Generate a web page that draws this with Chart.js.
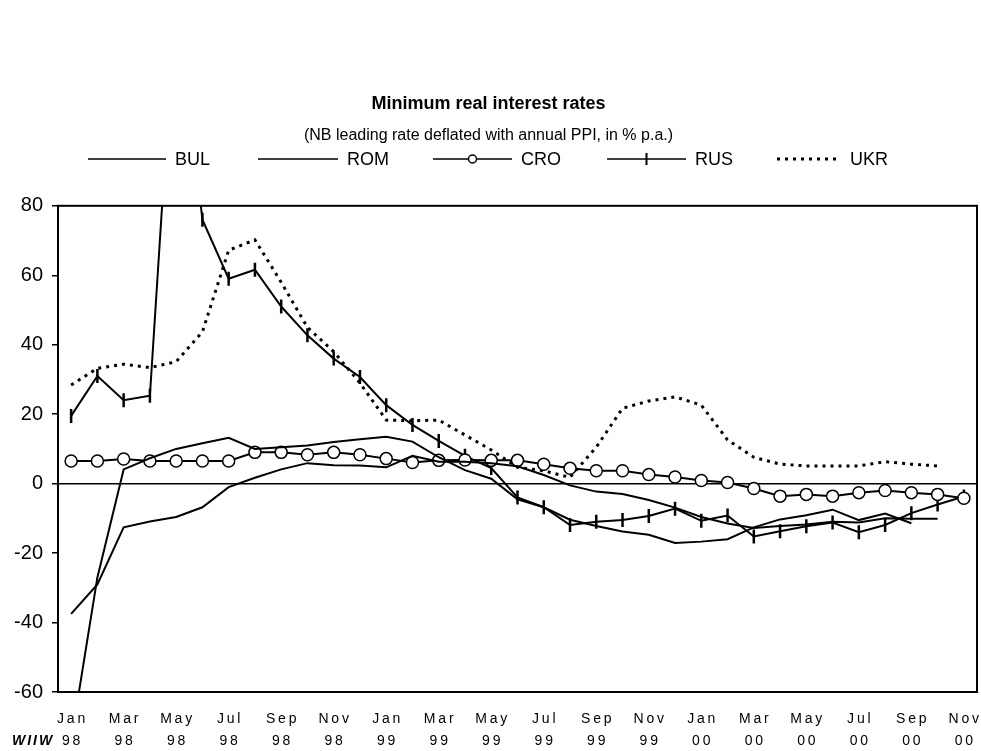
<!DOCTYPE html>
<html>
<head>
<meta charset="utf-8">
<title>Minimum real interest rates</title>
<script src="https://cdn.jsdelivr.net/npm/chart.js@4.4.1/dist/chart.umd.min.js"></script>
<style>
    html, body { margin: 0; padding: 0; background: #fff; }
</style>
</head>
<body>
<canvas id="chart" width="981" height="751"></canvas>
<script>
// Minimum real interest rates, Jan 98 - Nov 00 (monthly)

const months = ['Jan', 'Feb', 'Mar', 'Apr', 'May', 'Jun', 'Jul', 'Aug', 'Sep', 'Oct', 'Nov', 'Dec'];
const years = ['98', '99', '00'];
const monthCount = 35;

const yTicks = { min: -60, max: 80, step: 20 };

const bul = [-74, -27, 4.1, 7.3, 10.0, 11.6, 13.2, 10.0, 10.5, 11.0, 12.0, 12.8,
    13.5, 12.1, 7.6, 3.9, 1.4, -4.5, -6.8, -10.4, -12.2, -13.8, -14.7, -17.1,
    -16.7, -16.0, -12.6, -10.3, -9.1, -7.5, -10.5, -8.6, -11.4];
const rom = [-37.5, -29, -12.6, -10.9, -9.6, -6.8, -1.0, 1.7, 4.1, 5.9, 5.3, 5.2,
    4.7, 8.0, 6.3, 6.3, 5.9, 5.0, 2.5, -0.5, -2.3, -3.0, -4.7, -6.9,
    -9.6, -11.5, -12.8, -12.2, -11.8, -11.0, -11.2, -10.0, -10.1, -10.1];
const cro = [6.5, 6.5, 7.1, 6.5, 6.5, 6.5, 6.5, 9.0, 9.0, 8.3, 9.0, 8.3,
    7.2, 6.1, 6.7, 6.8, 6.7, 6.7, 5.6, 4.4, 3.7, 3.7, 2.6, 1.9,
    0.9, 0.3, -1.4, -3.6, -3.1, -3.6, -2.6, -2.0, -2.6, -3.1, -4.2];
const rus = [19.5, 31, 24, 25.3, 143, 76, 59, 61.6, 51, 42.7, 36, 30.7,
    22.6, 16.9, 12.3, 8.0, 4.5, -4.0, -6.8, -11.9, -11.0, -10.5, -9.3, -7.2,
    -10.7, -9.2, -15.2, -13.7, -12.3, -11.2, -14.0, -11.9, -8.5, -6.0, -3.7];
const ukr = [28.4, 33.2, 34.4, 33.4, 35.1, 43.7, 67.2, 70.2, 58, 45, 38, 29,
    18.3, 18.1, 18.3, 14.0, 9.7, 4.7, 3.7, 1.8, 10.5, 21.7, 23.8, 25.0,
    22.6, 12.6, 7.6, 5.6, 5.1, 5.1, 5.1, 6.3, 5.6, 5.1];

const FONT = '"Liberation Sans", Arial, Helvetica, sans-serif';

// category labels: [month, year]
const labels = [];
for (let i = 0; i < monthCount; i++) {
    labels.push([months[i % 12], years[Math.floor(i / 12)]]);
}

// spread letters a little, like the original axis
function spaced(s) {
    return s.split('').join('\u2009');
}

// Legend (drawn by hand so the samples look like the original)
const legendLayout = [
    { label: 'BUL', x: 88, len: 78, kind: 'line' },
    { label: 'ROM', x: 258, len: 80, kind: 'line' },
    { label: 'CRO', x: 433, len: 79, kind: 'circle' },
    { label: 'RUS', x: 607, len: 79, kind: 'tick' },
    { label: 'UKR', x: 777, len: 64, kind: 'dots' },
];

const decorPlugin = {
    id: 'decor',
    beforeDatasetsDraw(chart) {
        const { ctx, chartArea } = chart;
        ctx.save();
        ctx.strokeStyle = '#000';
        ctx.lineWidth = 2;
        ctx.strokeRect(chartArea.left, chartArea.top,
            chartArea.right - chartArea.left, chartArea.bottom - chartArea.top);
        ctx.restore();
    },
    afterDraw(chart) {
        const ctx = chart.ctx;
        const y = 159;
        ctx.save();
        ctx.strokeStyle = '#000';
        ctx.fillStyle = '#000';
        ctx.font = '18px ' + FONT;
        ctx.textBaseline = 'middle';
        legendLayout.forEach(item => {
            const x0 = item.x, x1 = item.x + item.len, mid = (x0 + x1) / 2;
            ctx.lineWidth = 1.5;
            if (item.kind === 'dots') {
                ctx.setLineDash([3, 5]);
                ctx.lineWidth = 3;
            }
            ctx.beginPath();
            ctx.moveTo(x0, y);
            ctx.lineTo(x1, y);
            ctx.stroke();
            ctx.setLineDash([]);
            if (item.kind === 'circle') {
                ctx.lineWidth = 1.5;
                ctx.beginPath();
                ctx.arc(mid, y, 4, 0, Math.PI * 2);
                ctx.fillStyle = '#fff';
                ctx.fill();
                ctx.stroke();
                ctx.fillStyle = '#000';
            }
            if (item.kind === 'tick') {
                ctx.lineWidth = 2;
                ctx.beginPath();
                ctx.moveTo(mid, y - 6);
                ctx.lineTo(mid, y + 6);
                ctx.stroke();
            }
            ctx.fillText(item.label, x1 + 9, y + 1);
        });

        // source mark
        ctx.font = 'italic bold 14px ' + FONT;
        ctx.letterSpacing = '2px';
        ctx.textBaseline = 'middle';
        ctx.fillText('WIIW', 12, 741);
        ctx.restore();
    },
};

const ctx = document.getElementById('chart');

new Chart(ctx, {
    type: 'line',
    data: {
        labels: labels,
        datasets: [
            {
                label: 'BUL',
                data: bul,
                borderColor: '#000',
                borderWidth: 2,
                pointRadius: 0,
            },
            {
                label: 'ROM',
                data: rom,
                borderColor: '#000',
                borderWidth: 2,
                pointRadius: 0,
            },
            {
                label: 'CRO',
                data: cro,
                borderColor: '#000',
                borderWidth: 2,
                pointRadius: 6,
                pointBackgroundColor: '#fff',
                pointBorderColor: '#000',
                pointBorderWidth: 1.5,
            },
            {
                label: 'RUS',
                data: rus,
                borderColor: '#000',
                borderWidth: 2,
                pointStyle: 'line',
                pointRotation: 90,
                pointRadius: 7,
                pointBorderColor: '#000',
                pointBorderWidth: 2.5,
            },
            {
                label: 'UKR',
                data: ukr,
                borderColor: '#000',
                borderWidth: 3,
                borderDash: [3, 5],
                pointRadius: 0,
            },
        ],
    },
    options: {
        responsive: false,
        devicePixelRatio: 1,
        animation: false,
        layout: {
            autoPadding: false,
            padding: { left: 0, right: 4, top: 0, bottom: 0 },
        },
        elements: {
            line: { tension: 0 },
        },
        plugins: {
            legend: { display: false },
            tooltip: { enabled: false },
            title: {
                display: true,
                text: 'Minimum real interest rates',
                color: '#000',
                font: { family: FONT, size: 18, weight: 'bold', lineHeight: 1.2 },
                padding: { top: 93, bottom: 10 },
            },
            subtitle: {
                display: true,
                text: '(NB leading rate deflated with annual PPI, in % p.a.)',
                color: '#000',
                font: { family: FONT, size: 16, lineHeight: 1.2 },
                padding: { top: 1, bottom: 61 },
            },
        },
        scales: {
            x: {
                type: 'category',
                offset: true,
                grid: { display: false },
                border: { display: false },
                ticks: {
                    autoSkip: false,
                    maxRotation: 0,
                    minRotation: 0,
                    padding: 8,
                    color: '#000',
                    font: { family: FONT, size: 14, lineHeight: 1.57 },
                    callback: function (value, index) {
                        if (index % 2 !== 0) return '';
                        const lab = labels[index];
                        return [spaced(lab[0]), spaced(lab[1])];
                    },
                },
                afterFit: function (scale) {
                    scale.height = 59;
                    scale.paddingLeft = 0;
                    scale.paddingRight = 0;
                },
            },
            y: {
                min: yTicks.min,
                max: yTicks.max,
                border: { display: true, color: '#000', width: 2 },
                grid: {
                    drawOnChartArea: true,
                    drawTicks: true,
                    tickLength: 6,
                    tickColor: '#000',
                    tickWidth: 1.5,
                    lineWidth: 1.5,
                    color: function (c) {
                        return c.tick && c.tick.value === 0 ? '#000' : 'rgba(0,0,0,0)';
                    },
                },
                ticks: {
                    stepSize: yTicks.step,
                    padding: 9,
                    color: '#000',
                    font: { family: FONT, size: 20 },
                },
                afterFit: function (scale) {
                    scale.width = 58;
                },
            },
        },
    },
    plugins: [decorPlugin],
});
</script>
</body>
</html>
